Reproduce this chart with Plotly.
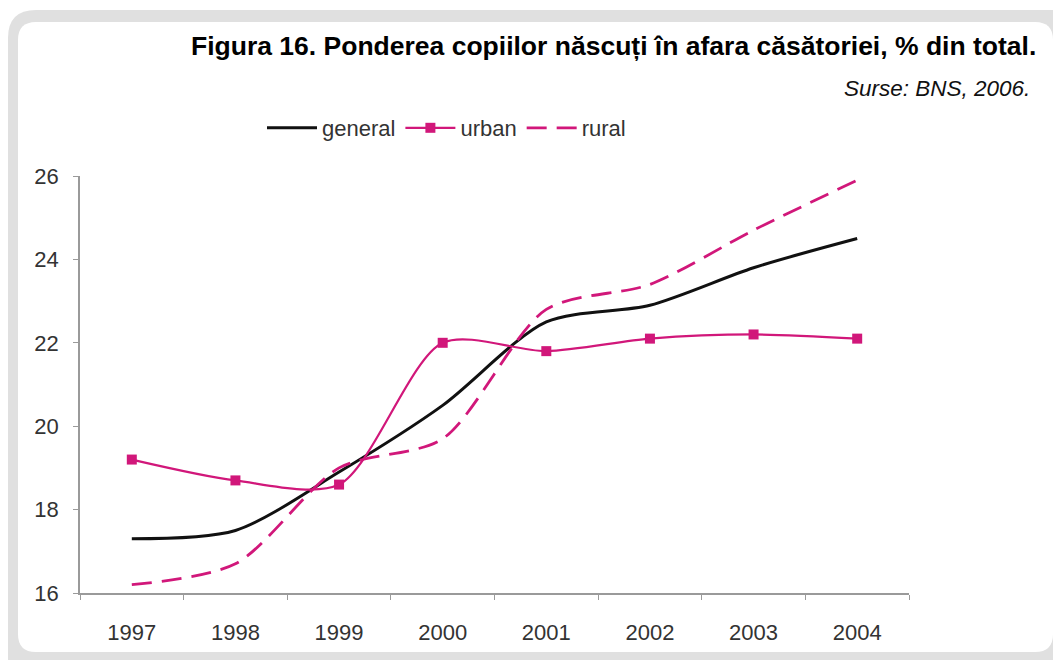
import plotly.graph_objects as go

years = ["1997", "1998", "1999", "2000", "2001", "2002", "2003", "2004"]
general = [17.3, 17.5, 18.9, 20.5, 22.5, 22.9, 23.8, 24.5]
urban = [19.2, 18.7, 18.6, 22.0, 21.8, 22.1, 22.2, 22.1]
rural = [16.2, 16.7, 19.0, 19.7, 22.8, 23.4, 24.7, 25.9]
y_ticks = [16, 18, 20, 22, 24, 26]

MAG = "#d1177a"
W, H = 1053, 660
L, R, T, B = 80, 909, 176, 593
FONT = "Liberation Sans, Arial, sans-serif"

def px(x):
    return (x - L) / (R - L)

def py(y):
    return (B - y) / (B - T)

def rrect(x0, y0, x1, y1, r):
    return (f"M {px(x0)},{py(y0 + r)} Q {px(x0)},{py(y0)} {px(x0 + r)},{py(y0)} "
            f"L {px(x1 - r)},{py(y0)} Q {px(x1)},{py(y0)} {px(x1)},{py(y0 + r)} "
            f"L {px(x1)},{py(y1 - r)} Q {px(x1)},{py(y1)} {px(x1 - r)},{py(y1)} "
            f"L {px(x0 + r)},{py(y1)} Q {px(x0)},{py(y1)} {px(x0)},{py(y1 - r)} Z")

fig = go.Figure()
fig.add_trace(go.Scatter(x=years, y=general, name="general", mode="lines",
                         line=dict(color="#111111", width=3, shape="spline", smoothing=0.8)))
fig.add_trace(go.Scatter(x=years, y=urban, name="urban", mode="lines+markers",
                         line=dict(color=MAG, width=2.2, shape="spline", smoothing=0.8),
                         marker=dict(symbol="square", size=10, color=MAG)))
fig.add_trace(go.Scatter(x=years, y=rural, name="rural", mode="lines",
                         line=dict(color=MAG, width=2.8, dash="20px,10px", shape="spline", smoothing=0.8)))

shapes = [
    dict(type="path", xref="paper", yref="paper", layer="below",
         path=rrect(8, 10, 1080, 690, 28), fillcolor="#e0e0e0", line=dict(width=0)),
    dict(type="path", xref="paper", yref="paper", layer="below",
         path=rrect(18, 22, 1053, 652, 18), fillcolor="#ffffff", line=dict(width=0)),
]

fig.update_layout(
    width=W, height=H,
    margin=dict(l=L, r=W - R, t=T, b=H - B),
    paper_bgcolor="#ffffff", plot_bgcolor="rgba(0,0,0,0)",
    font=dict(family=FONT, color="#333333", size=22),
    shapes=shapes,
    showlegend=True,
    legend=dict(orientation="h", x=px(262), y=py(128), xanchor="left", yanchor="middle",
                font=dict(size=22, color="#333333"), bgcolor="rgba(0,0,0,0)",
                itemwidth=50, tracegroupgap=0),
    annotations=[
        dict(text="<b>Figura 16. Ponderea copiilor născuți în afara căsătoriei, % din total.</b>",
             xref="paper", yref="paper", x=px(1038), y=py(46), xanchor="right", yanchor="middle",
             showarrow=False, font=dict(size=26.5, color="#000000", family=FONT)),
        dict(text="<i>Surse: BNS, 2006.</i>",
             xref="paper", yref="paper", x=px(1032), y=py(89), xanchor="right", yanchor="middle",
             showarrow=False, font=dict(size=22.5, color="#111111", family=FONT)),
    ],
)

fig.update_xaxes(type="category", range=[-0.5, 7.5], tickson="boundaries",
                 showline=True, linecolor="#9a9a9a", linewidth=1.5,
                 ticks="outside", ticklen=5, tickcolor="#9a9a9a",
                 showgrid=False, zeroline=False, ticklabelstandoff=19,
                 tickfont=dict(size=22, color="#333333"))
fig.update_yaxes(range=[16, 26], tickvals=y_ticks,
                 showline=True, linecolor="#9a9a9a", linewidth=1.5,
                 ticks="outside", ticklen=5, tickcolor="#9a9a9a",
                 showgrid=False, zeroline=False, ticklabelstandoff=10,
                 tickfont=dict(size=22, color="#333333"))

fig.write_html("out.html", config={"displayModeBar": False},
               post_script="document.body.style.margin='0';document.body.style.padding='0';")
